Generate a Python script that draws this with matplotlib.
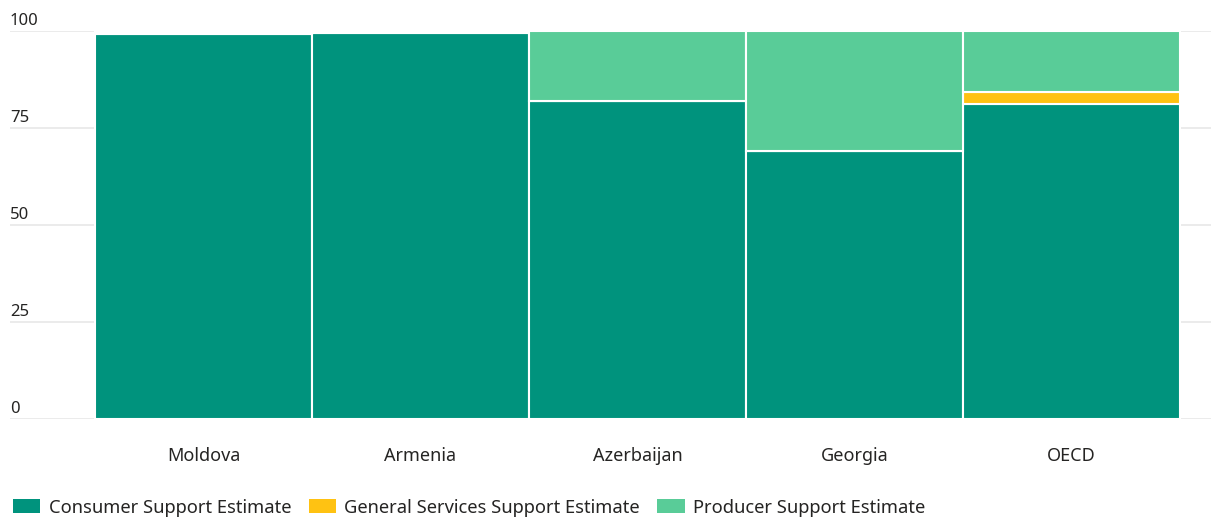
import matplotlib
matplotlib.use("Agg")
import matplotlib.pyplot as plt
from matplotlib.patches import Patch
from matplotlib.transforms import blended_transform_factory, ScaledTranslation
import numpy as np

plt.rcParams['font.family'] = ['Noto Sans', 'DejaVu Sans']

countries = ["Moldova", "Armenia", "Azerbaijan", "Georgia", "OECD"]
cse = [99.3, 99.4, 82.0, 69.1, 81.1]
gsse = [0.5, 0.3, 0.0, 0.0, 3.2]
pse = [0.2, 0.3, 18.0, 30.9, 15.7]
y_ticks = [0, 25, 50, 75, 100]

series = [
    ("Consumer Support Estimate", cse, "#00937D"),
    ("General Services Support Estimate", gsse, "#FFC212"),
    ("Producer Support Estimate", pse, "#59CC98"),
]

text_color = "#252423"
fig = plt.figure(figsize=(12.11, 5.20), dpi=100)
ax = fig.add_axes([10 / 1211, (520 - 418.8) / 520, 1201 / 1211, (418.8 - 30.8) / 520])

x = np.arange(len(countries))
bottom = np.zeros(len(countries))
for name, vals, color in series:
    vals = np.array(vals)
    ax.bar(x, vals, width=1.0, bottom=bottom, color=color,
           edgecolor="white", linewidth=1.5, zorder=3, label=name)
    bottom += vals

ax.set_xlim(-0.892, 4.643)
ax.set_ylim(0, 100)

for s in ax.spines.values():
    s.set_visible(False)

ax.set_yticks(y_ticks)
ax.yaxis.grid(True, color="#E8E8E8", linewidth=1.2, zorder=0)
ax.tick_params(axis="y", length=0, labelleft=False)
trans = blended_transform_factory(ax.transAxes, ax.transData)
off = ScaledTranslation(0, 1.5 / 72, fig.dpi_scale_trans)
for t in y_ticks:
    ax.text(0, t, str(t), transform=trans + off, ha="left", va="bottom",
            fontsize=12, color=text_color)

ax.set_xticks(x)
ax.set_xticklabels(countries, fontsize=13, color=text_color)
ax.tick_params(axis="x", length=0, pad=20.5)

handles = [Patch(facecolor=c, edgecolor="none") for _, _, c in series]
labels = [n for n, _, _ in series]
fig.legend(handles, labels, loc="lower left", bbox_to_anchor=(0.0, -0.018),
           ncol=3, frameon=False, fontsize=13.2, handlelength=1.5,
           handleheight=0.85, handletextpad=0.45, columnspacing=0.95,
           labelcolor=text_color, borderaxespad=0.3)

fig.savefig("out.png", dpi=100, facecolor="white")
